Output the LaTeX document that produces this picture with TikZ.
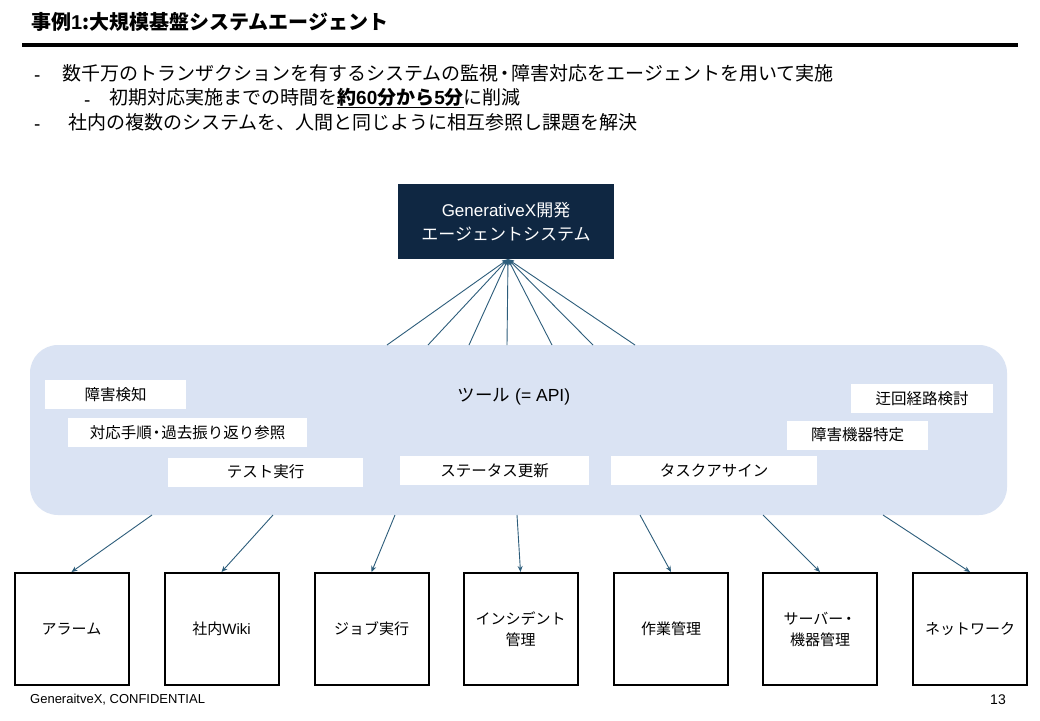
\documentclass[tikz,border=0pt]{standalone}
\usepackage{fontspec}
\setmainfont{Noto Sans CJK JP}
\newfontfamily\lat{Liberation Sans}
\usetikzlibrary{arrows.meta}
\definecolor{navy}{HTML}{0F2742}
\definecolor{panelblue}{HTML}{DAE3F3}
\definecolor{arrowc}{HTML}{2D5D7B}
\begin{document}
\begin{tikzpicture}[x=1pt,y=-1pt,
  chip/.style={fill=white, inner sep=0pt, minimum height=29pt, font=\fontsize{15.5}{18}\selectfont},
  sysbox/.style={draw=black, line width=2pt, minimum width=114pt, minimum height=112pt, inner sep=0pt, align=center, font=\fontsize{15}{21}\selectfont},
  arr/.style={draw=arrowc, line width=0.9pt, -{Stealth[length=6pt,width=5pt]}},
  bul/.style={anchor=west, inner sep=0pt, font=\fontsize{19}{22}\selectfont},
  dashmark/.style={anchor=west, inner sep=0pt, font=\lat\fontsize{19}{22}\selectfont}
]
\useasboundingbox[fill=white] (0,0) rectangle (1040,720);

% title
\node[anchor=west, inner sep=0pt, font=\fontsize{20}{24}\selectfont\bfseries] (title) at (31,22) {事例{\lat 1}:大規模基盤システムエージェント};
\draw[line width=4.5pt] (22,45) -- (1018,45);

% bullets
\node[dashmark] (d1) at (34,78.5) {-};
\node[bul] (t1) at (62,73) {数千万のトランザクションを有するシステムの監視{\kern-3pt・\kern-3pt}障害対応をエージェントを用いて実施};
\node[dashmark] (d2) at (84,103.5) {-};
\node[bul] (t2) at (109,98) {初期対応実施までの時間を\underline{\textbf{約{\lat\bfseries 60}分から{\lat\bfseries 5}分}}に削減};
\node[dashmark] (d3) at (34,127.5) {-};
\node[bul] (t3) at (68,122) {社内の複数のシステムを、人間と同じように相互参照し課題を解決};

% agent box
\node[fill=navy, text=white, minimum width=216pt, minimum height=75pt, inner sep=0pt, align=center,
      font=\fontsize{17}{24}\selectfont] (agent) at (506,221.5) {{\lat GenerativeX}開発\\エージェントシステム};
\coordinate (hub) at ([xshift=2pt]agent.south);

% tool panel
\node[fill=panelblue, rounded corners=28pt, minimum width=977pt, minimum height=170pt, inner sep=0pt] (panel) at (518.5,430) {};
\node[inner sep=0pt, font=\fontsize{17.5}{20}\selectfont] (toollbl) at (514,397) {ツール{\lat\ (= API)}};

\node[chip, minimum width=141pt] (c1) at (115.5,394.5) {障害検知};
\node[chip, minimum width=239pt] (c2) at (187.5,432.5) {対応手順{\kern-3pt・\kern-3pt}過去振り返り参照};
\node[chip, minimum width=195pt] (c3) at (265.5,472) {テスト実行};
\node[chip, minimum width=189pt] (c4) at (494.5,470.5) {ステータス更新};
\node[chip, minimum width=206pt] (c5) at (714,470.5) {タスクアサイン};
\node[chip, minimum width=141pt] (c6) at (857.5,435) {障害機器特定};
\node[chip, minimum width=142pt] (c7) at (922,398.5) {迂回経路検討};

% upper connectors
\foreach \i/\x in {1/387,2/428,3/469,4/507,5/552,6/593,7/635}{
  \coordinate (u\i) at (\x,345);
  \draw[arr] (u\i) -- (hub);
}

% bottom systems
\node[sysbox] (b1) at (71.5,629) {アラーム};
\node[sysbox] (b2) at (221.5,629) {社内{\lat Wiki}};
\node[sysbox] (b3) at (371.5,629) {ジョブ実行};
\node[sysbox] (b4) at (520.5,629) {インシデント\\管理};
\node[sysbox] (b5) at (671,629) {作業管理};
\node[sysbox] (b6) at (820,629) {サーバー{\kern-2pt・}\\機器管理};
\node[sysbox] (b7) at (970,629) {ネットワーク};

\foreach \i/\x in {1/152,2/273,3/395,4/517,5/640,6/763,7/883}{
  \coordinate (l\i) at (\x,515);
  \draw[arr] (l\i) -- (b\i.north);
}

% footer
\node[anchor=west, inner sep=0pt, font=\lat\fontsize{13}{15}\selectfont] (foot) at (30,700) {GeneraitveX, CONFIDENTIAL};
\node[inner sep=0pt, font=\lat\fontsize{14}{16}\selectfont] (pg) at (998,700) {13};
\end{tikzpicture}
\end{document}
